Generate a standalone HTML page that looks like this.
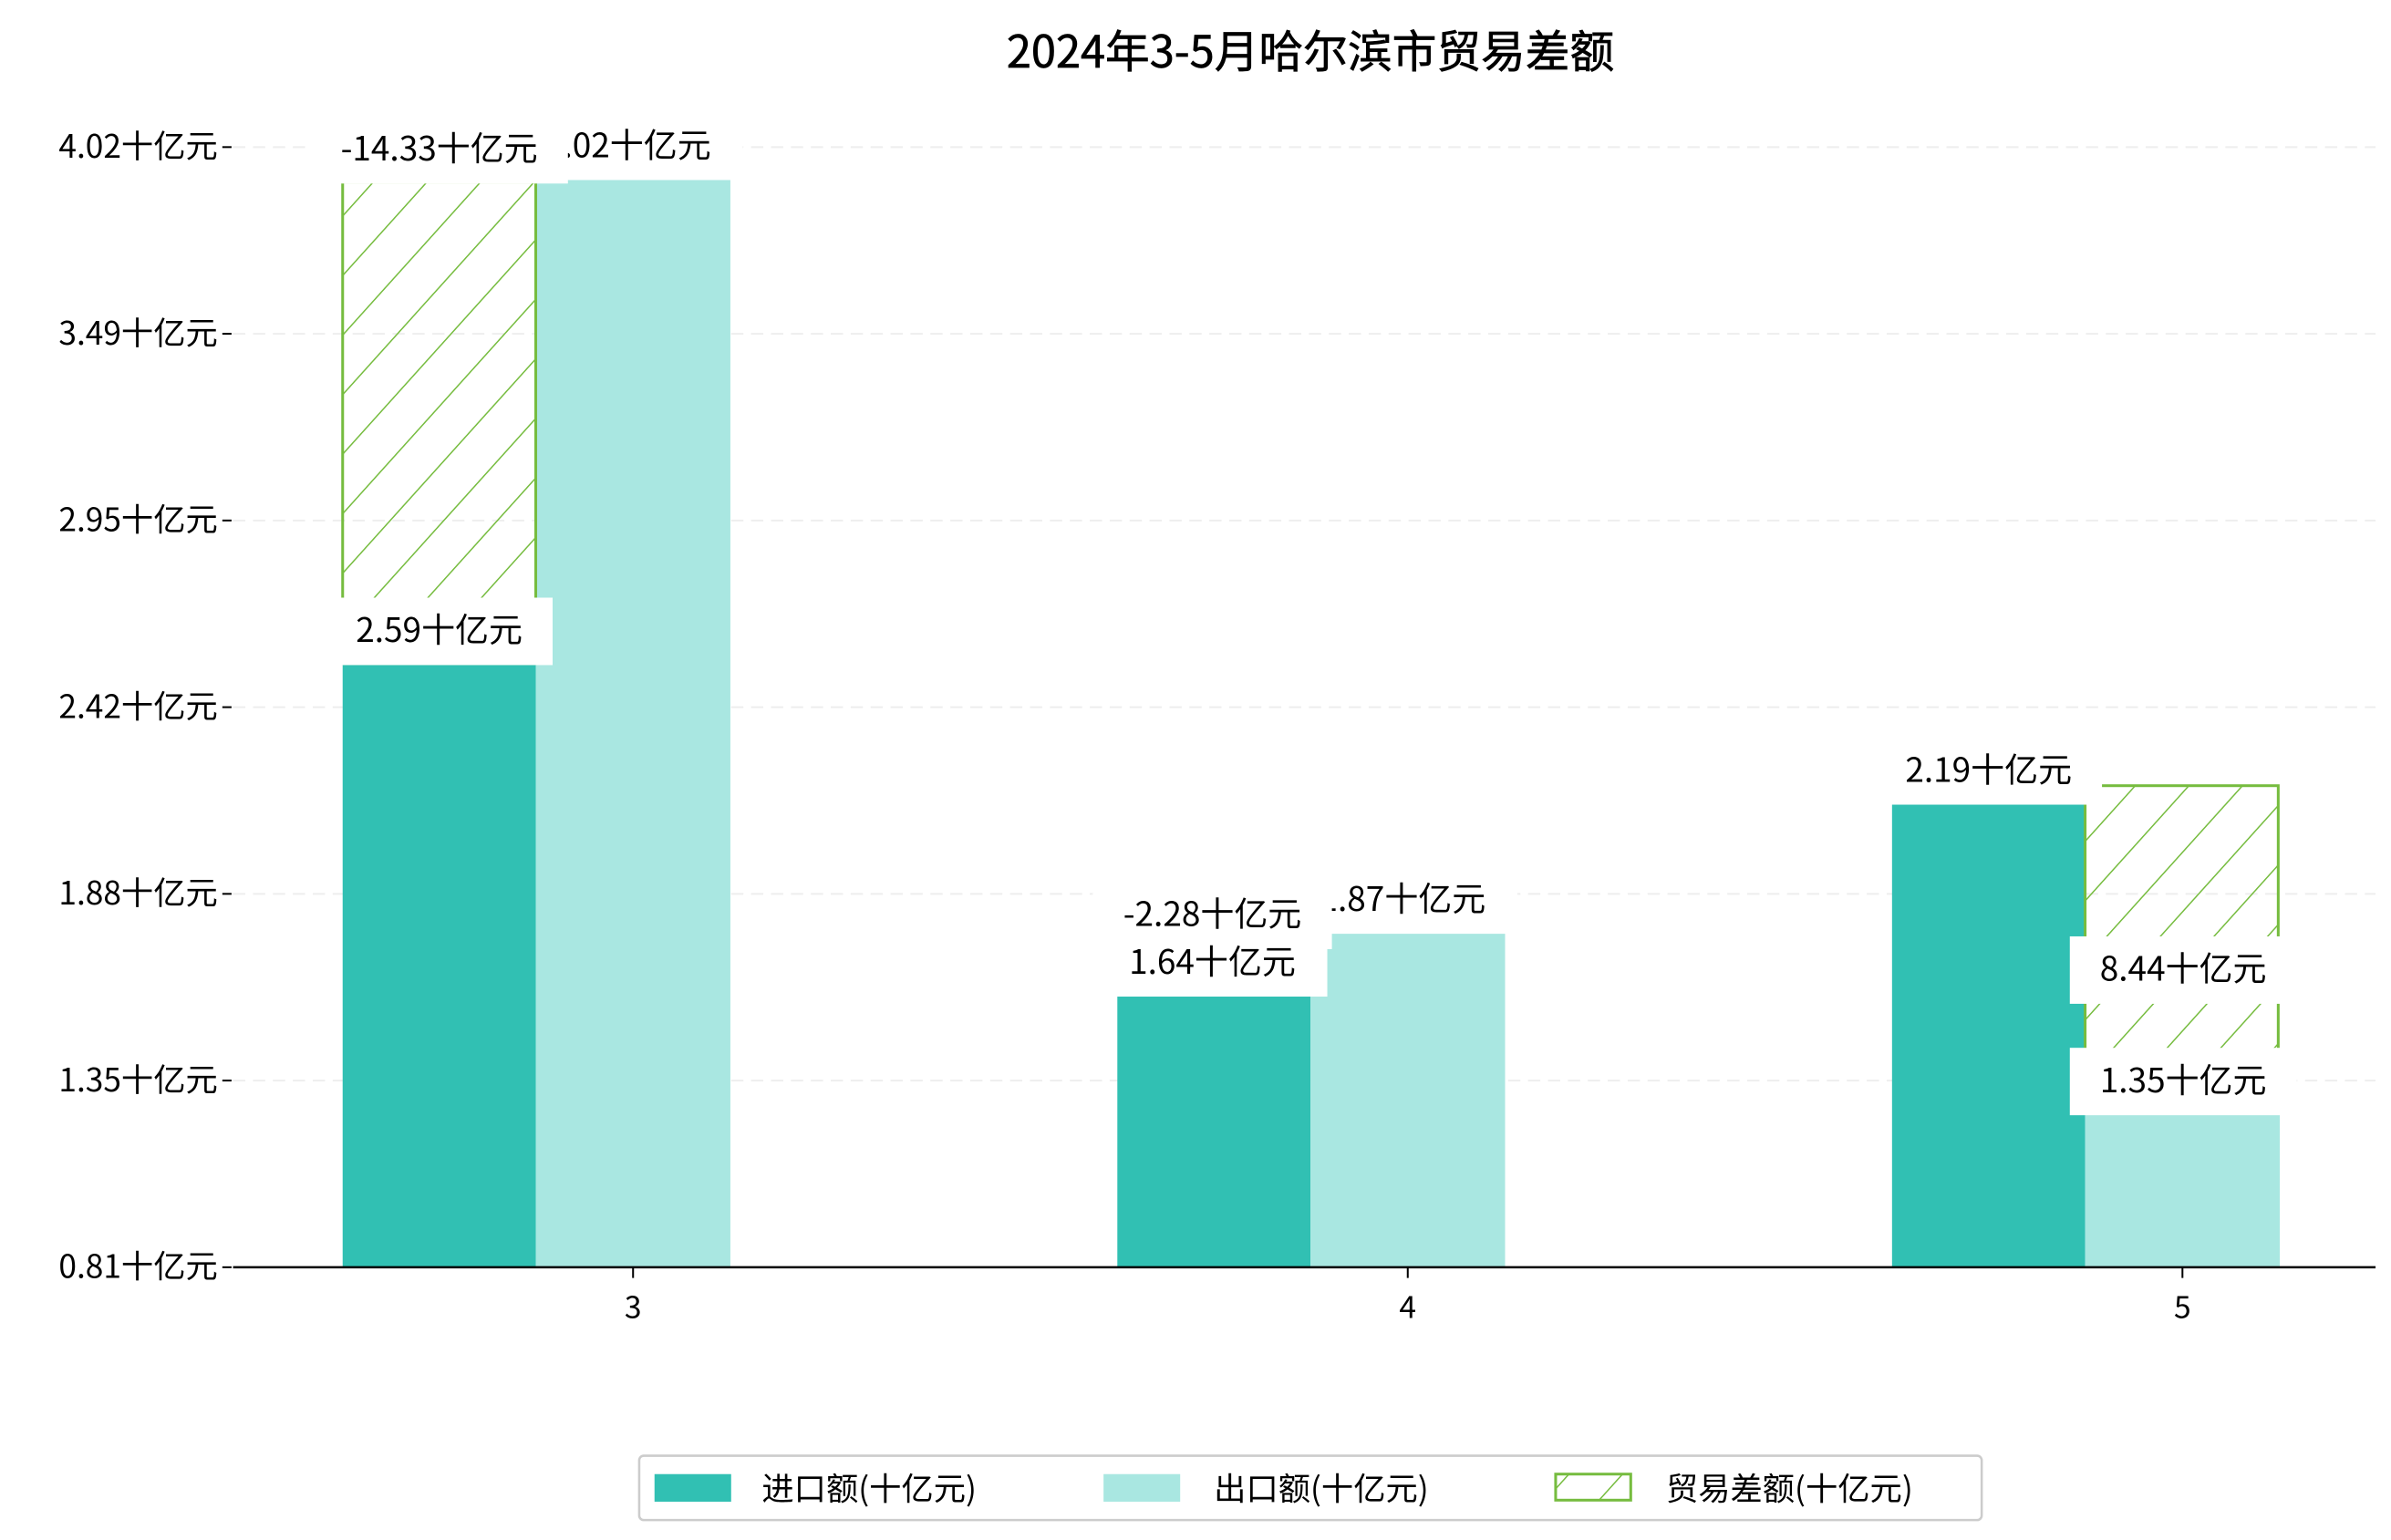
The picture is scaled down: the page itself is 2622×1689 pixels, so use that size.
<!DOCTYPE html>
<html><head><meta charset="utf-8"><style>
html,body{margin:0;padding:0;background:#fff;}
svg{display:block;font-family:"WenQuanYi Zen Hei","Noto Sans CJK SC",sans-serif;}
</style></head><body>
<svg id="chart" width="2622" height="1689" viewBox="0 0 1560 1005" xmlns="http://www.w3.org/2000/svg">
<defs>
<pattern id="hatch" patternUnits="userSpaceOnUse" width="26" height="26" patternTransform="rotate(42)">
<line x1="0" y1="0" x2="0" y2="26" stroke="#76bc3f" stroke-width="1.8"/>
</pattern>
</defs>
<text x="855" y="44" text-anchor="middle" font-size="29" fill="#000" stroke="#000" stroke-width="0.4">2024年3-5月哈尔滨市贸易差额</text>
<g id="grid"></g><g id="bars"></g><g id="labels"></g><g id="axes"></g>
<g>
<rect x="417" y="950" width="876" height="42" rx="3" fill="#fff" stroke="#ccc" stroke-width="1.5"/>
<rect x="427" y="962" width="50" height="18" fill="#31c0b3"/>
<text x="497" y="979" font-size="21">进口额(十亿元)</text>
<rect x="720" y="962" width="50" height="18" fill="#a9e7e1"/>
<text x="792" y="979" font-size="21">出口额(十亿元)</text>
<rect x="1015" y="962" width="49" height="17" fill="url(#hatch)" stroke="#76bc3f" stroke-width="1.8"/>
<text x="1087" y="979" font-size="21">贸易差额(十亿元)</text>
</g>
</svg>
<script>
const months = ["3","4","5"];
const importVals = [2.59, 1.64, 2.19];
const exportVals = [3.98, 1.82, 1.30];
const diffTop = [3.97, 1.80, 2.24];
const diffBottom = [2.59, 1.64, 1.35];
const tickLabels = ["0.81十亿元","1.35十亿元","1.88十亿元","2.42十亿元","2.95十亿元","3.49十亿元","4.02十亿元"];
const yMin = 0.86, yMax = 4.07;

const NS = "http://www.w3.org/2000/svg";
const plotTop = 96, plotBottom = 827, plotLeft = 152, plotRight = 1550;
function y(v){ return plotBottom - (v - yMin) / (yMax - yMin) * (plotBottom - plotTop); }
const groupX = [413, 918.5, 1424];
function x(i){ return groupX[0] + i * (groupX[2] - groupX[0]) / 2; }
const bw = 126;
function mk(tag, attrs, parent){ const e=document.createElementNS(NS,tag); for(const k in attrs) e.setAttribute(k,attrs[k]); parent.appendChild(e); return e; }
const grid=document.getElementById('grid'), bars=document.getElementById('bars'), labels=document.getElementById('labels'), axes=document.getElementById('axes');

tickLabels.forEach((t,i)=>{
  const ty = plotBottom - i*(plotBottom-plotTop)/(tickLabels.length-1);
  if(i>0){ const g=mk('line',{x1:plotLeft,x2:plotRight,y1:ty,y2:ty,stroke:'#eee','stroke-dasharray':'8,5','stroke-width':1.2},grid);
      }
  const tk=mk('line',{x1:plotLeft-7,x2:plotLeft-1,y1:ty,y2:ty,stroke:'#000','stroke-width':1.2},axes);
   
  const tl=mk('text',{x:142,y:ty+7,'text-anchor':'end','font-size':21},axes); tl.textContent=t;
   
});
const ax=mk('line',{x1:plotLeft,x2:plotRight,y1:plotBottom,y2:plotBottom,stroke:'#000','stroke-width':1.5},axes);
 

months.forEach((m,i)=>{
  const cx=x(i);
  const b=cx-63.5;
  const b1=mk('rect',{x:b-bw,y:y(importVals[i]),width:bw,height:plotBottom-y(importVals[i]),fill:'#31c0b3'},bars);
   
  const b2=mk('rect',{x:b,y:y(exportVals[i]),width:bw+1,height:plotBottom-y(exportVals[i]),fill:'#a9e7e1'},bars);
   
  const dx = i===2 ? b : b-bw;
  const top=y(diffTop[i]), bot=y(diffBottom[i]);
  const b3=mk('rect',{x:dx,y:Math.min(top,bot),width:bw,height:Math.abs(bot-top),fill:'url(#hatch)',stroke:'#76bc3f','stroke-width':1.8},bars);
   
  const tk=mk('line',{x1:cx,x2:cx,y1:plotBottom,y2:plotBottom+7,stroke:'#000','stroke-width':1.2},axes);
   
  const tl=mk('text',{x:cx,y:plotBottom+33,'text-anchor':'middle','font-size':20},axes); tl.textContent=m;
   
});

function label(txt,cx,cy,w,name){
  const r=mk('rect',{x:cx-w/2,y:cy-21,width:w,height:44,fill:'#fff'},labels);
   
  const t=mk('text',{x:cx,y:cy+8,'text-anchor':'middle','font-size':22},labels); t.textContent=txt;
   
}
const b0=x(0)-63.5, b1=x(1)-63.5, b2=x(2)-63.5;
label("4.02十亿元",b0+60,y(exportVals[0])-22,150,'label-export-3');
label("-14.33十亿元",b0-63,y(diffTop[0])-22,168,'label-balance-3');
label(importVals[0].toFixed(2)+"十亿元",b0-63,y(importVals[0])-22,148,'label-import-3');
label("1.87十亿元",b1+60,y(exportVals[1])-22,150,'label-export-4');
label("-2.28十亿元",b1-64,y(exportVals[1])-12,156,'label-balance-4');
label(importVals[1].toFixed(2)+"十亿元",b1-64,y(importVals[1])-22,150,'label-import-4');
label(importVals[2].toFixed(2)+"十亿元",b2-63,y(importVals[2])-22,148,'label-import-5');
label("8.44十亿元",b2+64,(y(diffTop[2])+y(diffBottom[2]))/2+18,148,'label-balance-5');
label("1.35十亿元",b2+64,y(exportVals[2])-22,148,'label-export-5');
</script>
</body></html>
